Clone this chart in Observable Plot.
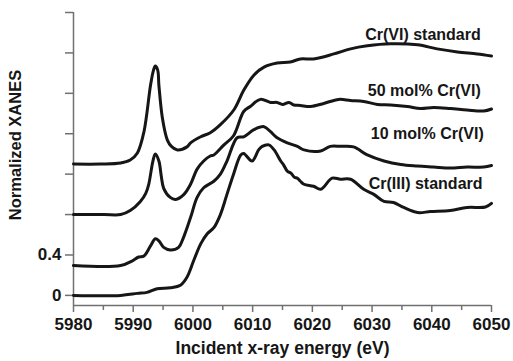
<!DOCTYPE html>
<html><head><meta charset="utf-8">
<script src="https://cdn.jsdelivr.net/npm/d3@7"></script>
<script src="https://cdn.jsdelivr.net/npm/@observablehq/plot@0.6"></script>
<style>body{margin:0;background:#fff}</style>
</head><body><div id="chart"></div>
<script>
const seriesNames = ["Cr(VI) standard", "50 mol% Cr(VI)", "10 mol% Cr(VI)", "Cr(III) standard"];

const crVI = [
  [5980.0,1.30],[5984.5,1.30],[5987.9,1.31],[5989.5,1.34],[5990.7,1.41],[5991.8,1.62],
  [5992.9,2.08],[5993.4,2.23],[5993.7,2.27],[5994.1,2.23],[5994.3,2.08],[5994.9,1.75],
  [5995.7,1.54],[5996.4,1.475],[5997.4,1.44],[5999.0,1.47],[5999.6,1.51],[6001.3,1.57],
  [6002.9,1.61],[6004.6,1.69],[6006.9,1.84],[6008.5,2.03],[6010.2,2.18],[6011.9,2.26],
  [6014.1,2.30],[6016.3,2.31],[6018.0,2.34],[6020.2,2.34],[6023.6,2.39],[6026.4,2.44],
  [6029.2,2.47],[6033.1,2.49],[6037.6,2.48],[6040.9,2.44],[6044.3,2.41],[6047.6,2.39],[6050.0,2.37]
];

const mol50 = [
  [5980.0,0.80],[5985.1,0.80],[5987.9,0.80],[5989.5,0.84],[5991.2,0.93],[5992.1,1.01],
  [5992.6,1.10],[5993.3,1.33],[5993.7,1.40],[5994.3,1.33],[5994.7,1.18],[5995.1,1.06],
  [5996.2,0.97],[5997.1,0.95],[5998.5,1.00],[5999.6,1.10],[6000.7,1.25],[6001.8,1.33],
  [6002.9,1.38],[6003.5,1.39],[6005.2,1.49],[6006.8,1.58],[6008.5,1.82],[6009.6,1.87],
  [6011.3,1.94],[6013.0,1.91],[6014.1,1.91],[6015.0,1.89],[6016.1,1.91],[6016.9,1.885],
  [6018.0,1.88],[6019.7,1.87],[6021.9,1.90],[6024.4,1.94],[6026.4,1.93],[6028.6,1.92],
  [6030.9,1.89],[6033.1,1.885],[6035.9,1.87],[6038.1,1.85],[6040.3,1.86],[6043.1,1.85],
  [6045.9,1.835],[6048.7,1.825],[6050.0,1.845]
];

const mol10 = [
  [5980.0,0.295],[5987.9,0.295],[5989.8,0.34],[5990.9,0.38],[5991.8,0.39],[5992.9,0.49],
  [5993.7,0.56],[5994.3,0.54],[5995.1,0.475],[5996.2,0.45],[5997.6,0.475],[5998.4,0.57],
  [5999.6,0.77],[6000.7,0.97],[6001.8,1.065],[6003.5,1.13],[6004.6,1.20],[6005.7,1.33],
  [6007.4,1.56],[6008.5,1.57],[6010.2,1.64],[6011.9,1.67],[6013.0,1.62],[6014.1,1.56],
  [6015.8,1.51],[6017.5,1.475],[6018.6,1.44],[6021.4,1.43],[6023.0,1.475],[6024.7,1.475],
  [6026.9,1.47],[6029.2,1.39],[6032.0,1.33],[6034.8,1.295],[6037.6,1.28],[6040.3,1.27],
  [6043.1,1.26],[6045.9,1.27],[6048.7,1.27],[6050.0,1.285]
];

const crIII = [
  [5980.0,0.0],[5987.9,0.0],[5990.7,0.02],[5992.3,0.03],[5994.0,0.065],[5996.2,0.075],
  [5997.9,0.10],[5999.0,0.18],[6000.1,0.34],[6001.3,0.51],[6002.4,0.61],[6003.5,0.67],
  [6004.6,0.80],[6005.7,1.00],[6006.8,1.20],[6008.0,1.39],[6008.5,1.405],[6009.9,1.33],
  [6011.0,1.44],[6011.6,1.475],[6012.7,1.49],[6013.6,1.44],[6014.7,1.33],[6015.2,1.29],
  [6015.8,1.23],[6016.4,1.21],[6017.0,1.17],[6017.5,1.16],[6018.0,1.13],[6018.6,1.10],
  [6020.2,1.08],[6021.4,1.05],[6023.3,1.16],[6024.7,1.15],[6026.4,1.15],[6028.6,1.05],
  [6030.3,1.00],[6032.0,0.93],[6033.6,0.92],[6035.3,0.87],[6037.6,0.82],[6039.8,0.83],
  [6043.1,0.84],[6045.9,0.87],[6049.0,0.875],[6050.0,0.91]
];

const xTicks = [5980, 5990, 6000, 6010, 6020, 6030, 6040, 6050];
const xMinorTicks = [5985, 5995, 6005, 6015, 6025, 6035, 6045];
const yTicks = [0, 0.4, 0.8, 1.2, 1.6, 2.0, 2.4, 2.8];
const yTickLabels = ["0", "0.4", "", "", "", "", "", ""];
const xTitle = "Incident x-ray energy (eV)";
const yTitle = "Normalized XANES";

const rows = [];
[crVI, mol50, mol10, crIII].forEach((s, i) =>
  s.forEach(([e, v]) => rows.push({series: seriesNames[i], energy: e, xanes: v})));

const axisColor = "#707070";
const ink = "#161616";
const font = "'Liberation Sans', Arial, Helvetica, sans-serif";

const chart = Plot.plot({
  width: 513,
  height: 361,
  marginLeft: 73,
  marginRight: 22,
  marginTop: 12,
  marginBottom: 56,
  style: {fontFamily: font, fontWeight: "bold", fontSize: "16px", color: ink, background: "#fff"},
  x: {domain: [5980, 6050]},
  y: {domain: [-0.1, 2.8]},
  marks: [
    Plot.ruleX([5980], {stroke: axisColor, strokeWidth: 1.5}),
    Plot.ruleY([-0.1], {stroke: axisColor, strokeWidth: 1.5}),
    Plot.axisY({ticks: yTicks, tickSize: 8, tickPadding: 4, stroke: axisColor, strokeWidth: 1.5, fill: ink, fontSize: 17,
      tickFormat: d => yTickLabels[yTicks.indexOf(d)], label: null}),
    Plot.axisX({ticks: xTicks, tickSize: 7, tickPadding: 5, stroke: axisColor, strokeWidth: 1.5, fill: ink, fontSize: 17,
      tickFormat: d => String(d), label: null}),
    Plot.axisX({ticks: xMinorTicks, tickSize: 5, stroke: axisColor, strokeWidth: 1.5, tickFormat: () => "", label: null}),
    Plot.line(rows, {x: "energy", y: "xanes", z: "series", stroke: ink, strokeWidth: 3, curve: "catmull-rom"}),
    Plot.text(seriesNames, {
      x: [6048.2, 6048.2, 6048.7, 6048.5],
      y: [2.576, 2.026, 1.603, 1.10],
      text: d => d, textAnchor: "end", fontSize: 16, fill: ink
    }),
    Plot.text([xTitle], {frameAnchor: "bottom", dy: 48, fontSize: 17.5, fill: ink})
  ]
});

d3.select(chart).append("text")
  .attr("transform", "translate(15.5,145) rotate(-90)")
  .attr("text-anchor", "middle")
  .attr("dy", "0.35em")
  .attr("fill", ink)
  .style("font-family", font)
  .style("font-weight", "bold")
  .style("font-size", "16.5px")
  .text(yTitle);

document.getElementById("chart").appendChild(chart);
</script>
</body></html>
